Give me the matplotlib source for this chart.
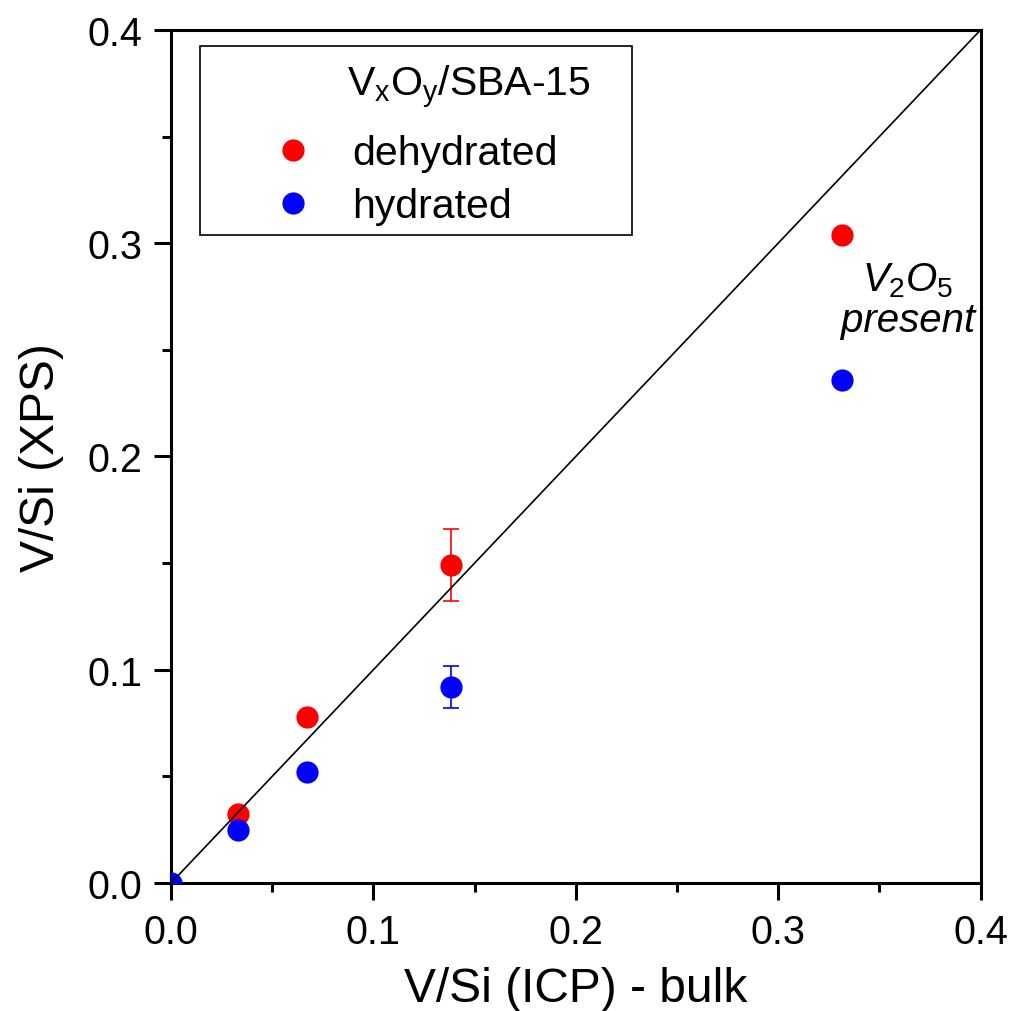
import numpy as np
import matplotlib
matplotlib.use('Agg')
import matplotlib.pyplot as plt
from matplotlib.lines import Line2D
from matplotlib.patches import Rectangle
from matplotlib.ticker import MultipleLocator, FormatStrFormatter

plt.rcParams['font.family'] = ['Liberation Sans', 'DejaVu Sans']
plt.rcParams['mathtext.fontset'] = 'custom'
plt.rcParams['mathtext.rm'] = 'Liberation Sans'
plt.rcParams['mathtext.it'] = 'Liberation Sans:italic'

# V/Si ratios: bulk (ICP) vs surface (XPS)
icp = [0.0, 0.0331, 0.0672, 0.1383, 0.3314]
xps_dehydrated = [np.nan, 0.0324, 0.0778, 0.149, 0.304]
xps_hydrated = [0.0, 0.025, 0.052, 0.0919, 0.2359]

# error bars only on the 4th sample
err_dehydrated = [0, 0, 0, 0.017, 0]
err_hydrated = [0, 0, 0, 0.010, 0]
err_x = [icp[3]]

fig = plt.figure(figsize=(10.12, 10.12), dpi=100)
ax = fig.add_axes([0.169, 0.1265, 0.8, 0.843])

ax.set_xlim(0, 0.4)
ax.set_ylim(0, 0.4)

# parity line
ax.plot([0, 0.4], [0, 0.4], color='black', lw=1.2, zorder=5)

ax.errorbar(err_x, [xps_dehydrated[3]], yerr=[err_dehydrated[3]], fmt='none',
            ecolor='red', elinewidth=1.2, capsize=6, capthick=1.2, zorder=2)
ax.errorbar(err_x, [xps_hydrated[3]], yerr=[err_hydrated[3]], fmt='none',
            ecolor='blue', elinewidth=1.2, capsize=6, capthick=1.2, zorder=2)

ax.plot(icp, xps_dehydrated, 'o', color='red', ms=16, mew=0, zorder=3)
ax.plot(icp, xps_hydrated, 'o', color='blue', ms=16, mew=0, zorder=3)

ax.text(0.364, 0.2735,
        '$\\mathit{V}_\\mathit{2}\\mathit{O}_\\mathit{5}$\npresent',
        style='italic', fontsize=29, ha='center', va='center', linespacing=1.05)

# legend box: header text + two entries, frame drawn separately
ax.text(0.2173, 0.9226, '$\\mathregular{V_xO_y}$/SBA-15', fontsize=29.5,
        transform=ax.transAxes, ha='left', va='baseline')
handles = [Line2D([], [], ls='none', marker='o', color='red', ms=16, mew=0),
           Line2D([], [], ls='none', marker='o', color='blue', ms=16, mew=0)]
labels = ['dehydrated', 'hydrated']
leg = ax.legend(handles, labels, loc='upper left', bbox_to_anchor=(0.1, 0.878),
                borderaxespad=0, borderpad=0, fontsize=29.5, frameon=False,
                handlelength=2.0, handletextpad=0.44, labelspacing=0.37)
ax.add_patch(Rectangle((0.0358, 0.7597), 0.5333, 0.2215, transform=ax.transAxes,
                       fill=False, edgecolor='black', lw=1.2, zorder=6))

ax.xaxis.set_major_locator(MultipleLocator(0.1))
ax.xaxis.set_minor_locator(MultipleLocator(0.05))
ax.yaxis.set_major_locator(MultipleLocator(0.1))
ax.yaxis.set_minor_locator(MultipleLocator(0.05))
ax.xaxis.set_major_formatter(FormatStrFormatter('%.1f'))
ax.yaxis.set_major_formatter(FormatStrFormatter('%.1f'))

ax.tick_params(which='major', direction='out', length=12, width=2.2,
               labelsize=28.5)
ax.tick_params(axis='x', which='major', pad=9.5)
ax.tick_params(axis='y', which='major', pad=8.5)
ax.tick_params(which='minor', direction='out', length=6.5, width=2.2)
for s in ax.spines.values():
    s.set_linewidth(2.2)

ax.set_xlabel('V/Si (ICP) - bulk', fontsize=34.5, labelpad=11)
ax.set_ylabel('V/Si (XPS)', fontsize=34.5, labelpad=17)

fig.savefig('out.png', dpi=100)
